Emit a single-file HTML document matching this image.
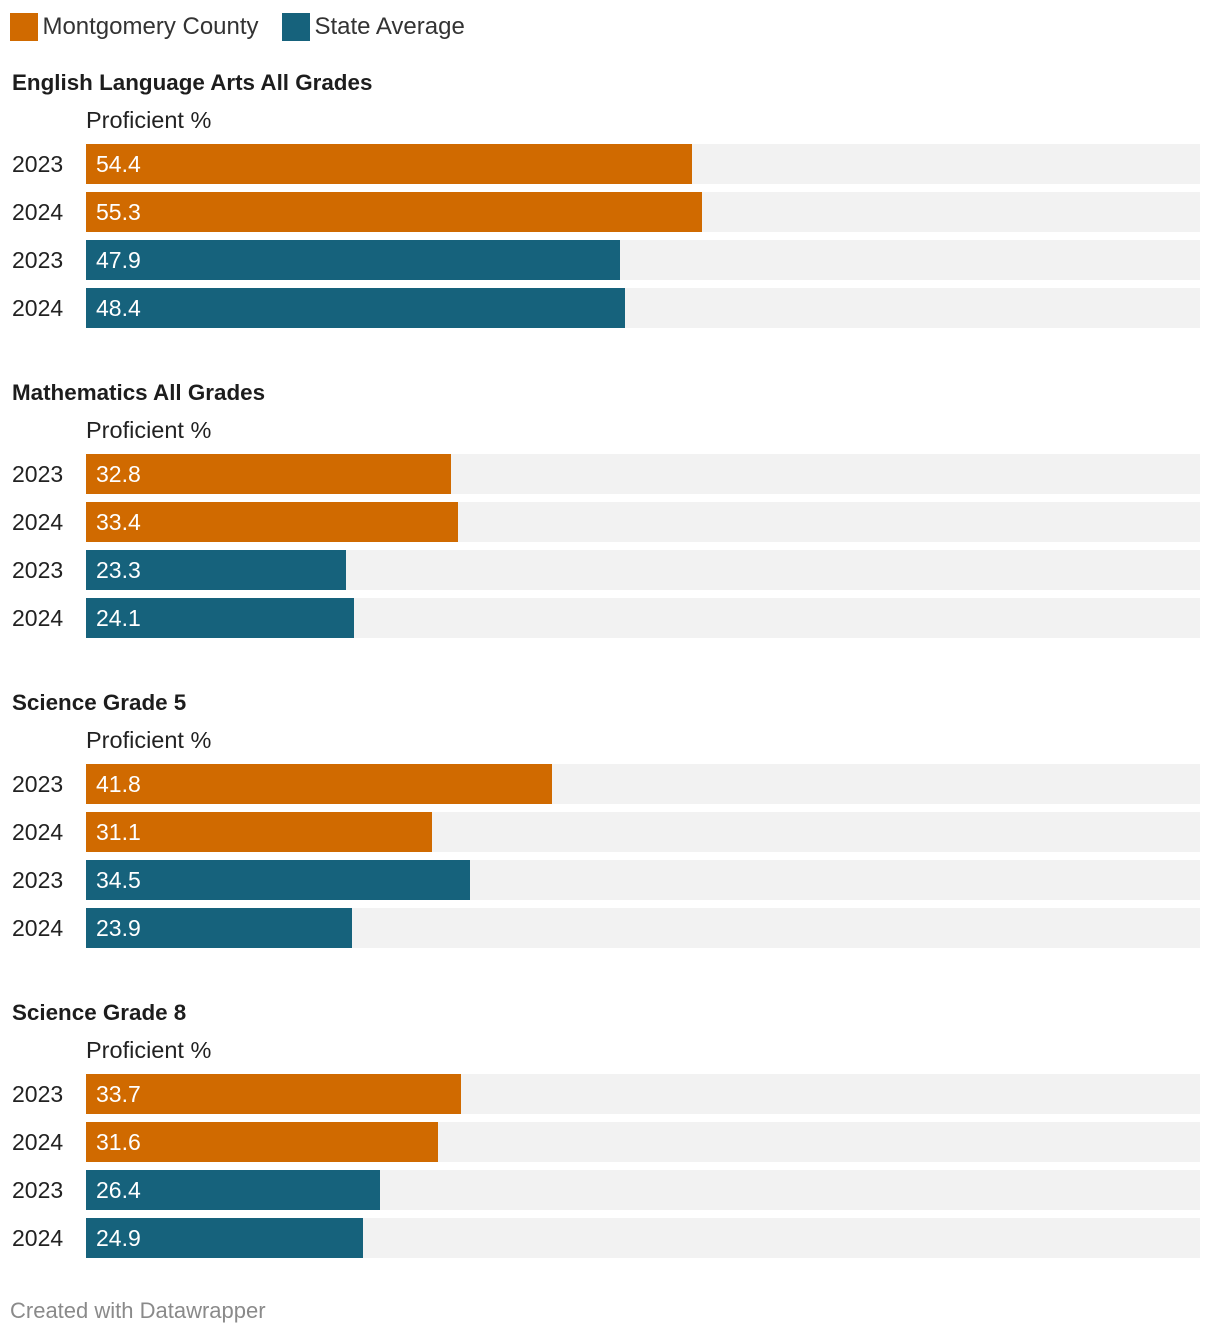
<!DOCTYPE html>
<html><head><meta charset="utf-8">
<style>
body{margin:0;background:#fff;font-family:"Liberation Sans",sans-serif;}
#root{position:relative;width:1220px;height:1336px;overflow:hidden;}
.abs{position:absolute;white-space:nowrap;}
.title{font-weight:bold;font-size:22.4px;color:#1d1d1d;}
.sub{font-size:23.5px;color:#222;}
.yr{font-size:23px;color:#222;}
.val{font-size:23px;color:#fff;}
.track{background:#f2f2f2;}
</style></head>
<body><div id="root">
<div class="abs" style="left:10px;top:13px;">
 <span style="display:inline-block;width:28px;height:28px;background:#d06a00;vertical-align:middle"></span>
 <span style="font-size:24px;color:#333;vertical-align:middle">Montgomery County</span>
</div>
<div class="abs" style="left:282px;top:13px;">
 <span style="display:inline-block;width:28px;height:28px;background:#16627c;vertical-align:middle"></span>
 <span style="font-size:24px;color:#333;vertical-align:middle">State Average</span>
</div>
<div class="abs" style="left:10px;top:1298px;font-size:22px;color:#8a8a8a;">Created with Datawrapper</div>
</div>
<script>
const sections=["English Language Arts All Grades","Mathematics All Grades","Science Grade 5","Science Grade 8"];
const years=["2023","2024","2023","2024"];
const groups=["county","county","state","state"];
const vals=[[54.4,55.3,47.9,48.4],[32.8,33.4,23.3,24.1],[41.8,31.1,34.5,23.9],[33.7,31.6,26.4,24.9]];
const colors={county:"#d06a00",state:"#16627c"};
const root=document.getElementById('root');
const x0=86,W=1114;
function xs(v){return v/100*W;}
function mk(cls,css,txt){const d=document.createElement('div');d.className='abs '+cls;d.style.cssText=css;if(txt!==undefined)d.textContent=txt;root.appendChild(d);return d;}
sections.forEach((s,i)=>{
 const top=i*310;
 let t=mk('title',`left:12px;top:${top+70}px;`,s);
 
 
 let p=mk('sub',`left:86px;top:${top+107}px;`,'Proficient %');
 
 
 vals[i].forEach((v,j)=>{
  const y=top+144+j*48;
  let yl=mk('yr',`left:12px;top:${y+7}px;`,years[j]);
  
  
  let tr=mk('track',`left:${x0}px;top:${y}px;width:${W}px;height:40px;`);
  
  
  let b=mk('',`left:${x0}px;top:${y}px;width:${xs(v)}px;height:40px;background:${colors[groups[j]]};`);
  
  
  let vl=mk('val',`left:${x0+10}px;top:${y+7}px;`,v.toFixed(1));
  
  
 });
});
</script>
</body></html>
